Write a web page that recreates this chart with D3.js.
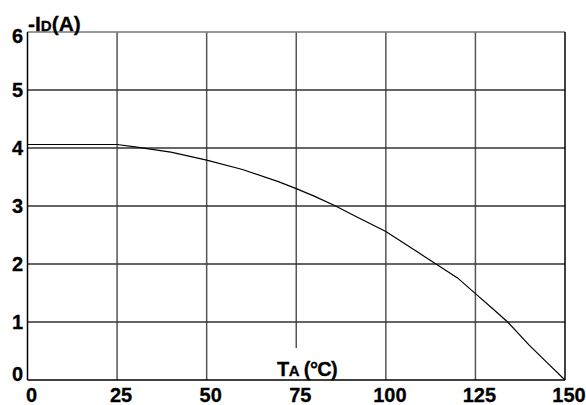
<!DOCTYPE html>
<html><head><meta charset="utf-8">
<script src="https://cdn.jsdelivr.net/npm/d3@7"></script>
<style>
html,body{margin:0;padding:0;background:#fff;}
svg{display:block;}
text{font-family:"Liberation Sans",Arial,sans-serif;font-weight:bold;fill:#000;stroke:#000;stroke-width:0.3;}
</style></head>
<body><svg id="c" width="586" height="405"></svg>
<script>
const tempC = [0, 25, 30, 40, 50, 60, 70, 75, 80, 86, 90, 100, 108, 114, 120, 125, 130, 134, 140, 145, 150];
const currentA = [4.06, 4.06, 4.02, 3.93, 3.79, 3.63, 3.42, 3.30, 3.17, 3.0, 2.87, 2.56, 2.24, 2.0, 1.76, 1.49, 1.22, 1.0, 0.6, 0.3, 0];
const xTicks = [0, 25, 50, 75, 100, 125, 150];
const yTicks = [0, 1, 2, 3, 4, 5, 6];

const svg = d3.select("#c");
const L = 27.5, R = 565, T = 32, B = 380;
const x = d3.scaleLinear().domain([0, 150]).range([L, R]);
const y = d3.scaleLinear().domain([0, 6]).range([B, T]);

// grid
const g = svg.append("g");
g.selectAll(".vg").data(xTicks.filter(d => d > 0 && d < 150)).enter().append("line")
  .attr("x1", d => x(d)).attr("x2", d => x(d))
  .attr("y1", T).attr("y2", d => d === 75 ? 348 : B)
  .attr("stroke", "#555").attr("stroke-width", 1.5);
g.selectAll(".hg").data(yTicks.filter(d => d > 0)).enter().append("line")
  .attr("x1", L).attr("x2", R)
  .attr("y1", d => y(d)).attr("y2", d => y(d))
  .attr("stroke", d => d === 6 ? "#777" : "#333").attr("stroke-width", 1.5);

// frame
svg.append("line").attr("x1", L).attr("x2", L).attr("y1", T).attr("y2", B).attr("stroke", "#000").attr("stroke-width", 1.5);
svg.append("line").attr("x1", L).attr("x2", R).attr("y1", B).attr("y2", B).attr("stroke", "#000").attr("stroke-width", 1.5);
svg.append("line").attr("x1", R).attr("x2", R).attr("y1", T).attr("y2", B).attr("stroke", "#000").attr("stroke-width", 1.5);

// curve
const pts = tempC.map((t, i) => [t, currentA[i]]);
svg.append("path").datum(pts)
  .attr("d", d3.line().x(d => x(d[0])).y(d => y(d[1])))
  .attr("fill", "none").attr("stroke", "#000").attr("stroke-width", 1.2);

// tick labels
svg.selectAll(".xl").data(xTicks).enter().append("text")
  .attr("x", d => x(d) + 4).attr("y", 402)
  .attr("text-anchor", "middle").attr("font-size", 20)
  .text(d => d);
svg.selectAll(".yl").data(yTicks).enter().append("text")
  .attr("x", 23).attr("y", d => y(d) + 7 + (d === 0 ? -6 : d === 6 ? 4 : 0))
  .attr("text-anchor", "end").attr("font-size", 20)
  .text(d => d);

// axis titles
const yt = svg.append("text").attr("x", 28).attr("y", 31).attr("font-size", 21);
yt.append("tspan").text("-I");
yt.append("tspan").attr("font-size", 15).text("D");
yt.append("tspan").text("(A)");

const xt = svg.append("text").attr("x", 277).attr("y", 376).attr("font-size", 20).attr("letter-spacing", -0.6);
xt.append("tspan").text("T");
xt.append("tspan").attr("font-size", 15).text("A");
xt.append("tspan").text(" (°C)");
</script></body></html>
